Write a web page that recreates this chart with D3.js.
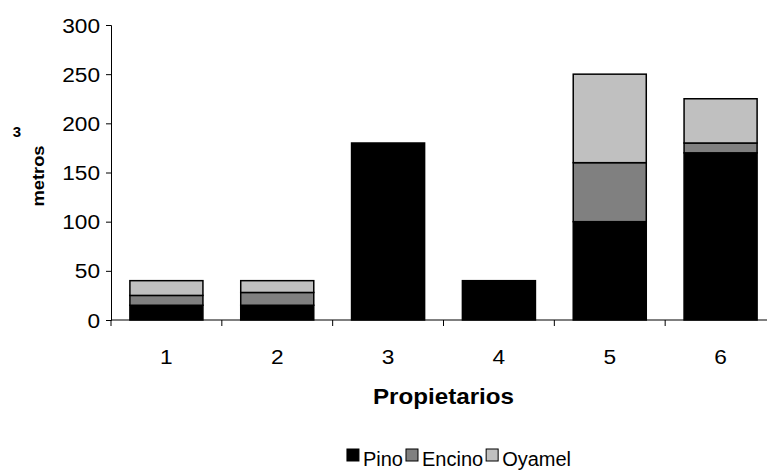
<!DOCTYPE html>
<html>
<head>
<meta charset="utf-8">
<script src="https://cdn.jsdelivr.net/npm/d3@7"></script>
<style>
  html, body { margin: 0; padding: 0; background: #fff; }
  svg { display: block; font-family: "Liberation Sans", Arial, sans-serif; }
</style>
</head>
<body>
<svg id="chart" width="767" height="471"></svg>
<script>
// Volume per owner (m³) by species
const propietarios = ["1", "2", "3", "4", "5", "6"];
const pino   = [15, 15, 180, 40, 100, 170];
const encino = [10, 13, 0, 0, 60, 10];
const oyamel = [15, 12, 0, 0, 90, 45];
const yTicks = [0, 50, 100, 150, 200, 250, 300];

const especies = ["Pino", "Encino", "Oyamel"];
const colores  = ["#000000", "#808080", "#c0c0c0"];

const rows = propietarios.map((p, i) => ({
  p, Pino: pino[i], Encino: encino[i], Oyamel: oyamel[i]
}));
const stacked = d3.stack().keys(especies)(rows);

const svg = d3.select("#chart");

const plotL = 111, plotR = 776, plotT = 25, plotB = 320;

const x = d3.scaleBand()
  .domain(propietarios)
  .range([plotL, plotR])
  .paddingInner(0.341)
  .paddingOuter(0.1705);

const y = d3.scaleLinear().domain([0, 300]).range([plotB, plotT]);

// bars
stacked.forEach((layer, k) => {
  svg.append("g")
    .selectAll("rect")
    .data(layer.filter(d => d[1] - d[0] > 0))
    .join("rect")
    .attr("x", d => x(d.data.p))
    .attr("width", x.bandwidth())
    .attr("y", d => y(d[1]))
    .attr("height", d => y(d[0]) - y(d[1]))
    .attr("fill", colores[k])
    .attr("stroke", "#000")
    .attr("stroke-width", 1.5);
});

// y axis
const gy = svg.append("g").attr("transform", `translate(${plotL},0)`)
  .call(d3.axisLeft(y).tickValues(yTicks).tickSize(5).tickPadding(0).tickFormat(""));
gy.select(".domain").attr("stroke", "#000").attr("stroke-width", 1);
gy.selectAll(".tick line").attr("stroke", "#000");

yTicks.forEach(t => {
  svg.append("text")
    .attr("transform", `translate(${plotL - 11},${y(t) + 7.5}) scale(1.08,1)`)
    .attr("text-anchor", "end")
    .attr("font-size", 21)
    .attr("fill", "#000")
    .text(t);
});

// x axis with ticks at category boundaries
const step = x.step();
const bounds = d3.range(propietarios.length + 1).map(i => plotL + i * step);
svg.append("line")
  .attr("x1", plotL).attr("x2", plotR)
  .attr("y1", plotB).attr("y2", plotB)
  .attr("stroke", "#000").attr("stroke-width", 1);
svg.append("g").selectAll("line").data(bounds).join("line")
  .attr("x1", d => d).attr("x2", d => d)
  .attr("y1", plotB).attr("y2", plotB + 6)
  .attr("stroke", "#000").attr("stroke-width", 1);

propietarios.forEach(p => {
  svg.append("text")
    .attr("transform", `translate(${x(p) + x.bandwidth() / 2},${364}) scale(1.08,1)`)
    .attr("text-anchor", "middle")
    .attr("font-size", 21)
    .attr("fill", "#000")
    .text(p);
});

// axis titles
svg.append("text")
  .attr("transform", `translate(${(plotL + plotR) / 2},${404}) scale(1.1,1)`)
  .attr("text-anchor", "middle")
  .attr("font-size", 22)
  .attr("font-weight", "bold")
  .text("Propietarios");

svg.append("text")
  .attr("transform", `translate(44,${176}) rotate(-90)`)
  .attr("text-anchor", "middle")
  .attr("font-size", 16)
  .attr("font-weight", "bold")
  .attr("textLength", 61)
  .attr("lengthAdjust", "spacingAndGlyphs")
  .text("metros");

svg.append("text")
  .attr("transform", `translate(17,${137})`)
  .attr("text-anchor", "middle")
  .attr("font-size", 15)
  .attr("font-weight", "bold")
  .text("3");

// legend, centred below the axis title
const legSx = 1.0, legFont = 20, sq = 12, gapIn = 4, gapOut = 3;
const legend = svg.append("g");
let cx = 0;
especies.forEach((name, k) => {
  legend.append("rect")
    .attr("x", cx).attr("y", 449)
    .attr("width", sq).attr("height", sq)
    .attr("fill", colores[k])
    .attr("stroke", "#000").attr("stroke-width", 1);
  cx += sq + gapIn;
  const t = legend.append("text")
    .attr("transform", `translate(${cx},${466}) scale(${legSx},1)`)
    .attr("font-size", legFont)
    .attr("fill", "#000")
    .text(name);
  cx += t.node().getComputedTextLength() * legSx + gapOut;
});
const legW = cx - gapOut;
legend.attr("transform", `translate(${459 - legW / 2},0)`);
</script>
</body>
</html>
